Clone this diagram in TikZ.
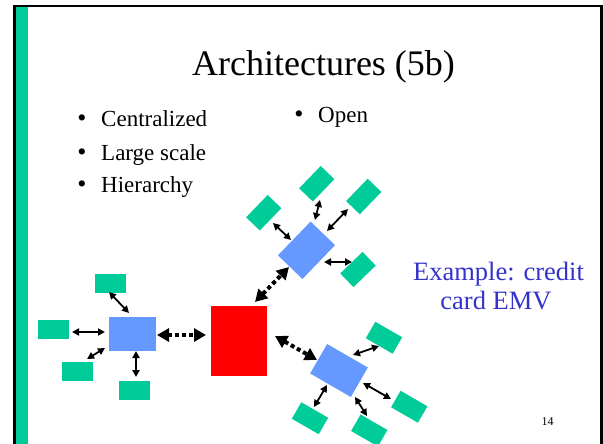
\documentclass[tikz,border=0pt]{standalone}
\usepackage{fontspec}
\setmainfont{Liberation Serif}
\usetikzlibrary{arrows.meta}
\definecolor{slgreen}{RGB}{0,204,153}
\definecolor{slblue}{RGB}{102,153,255}
\definecolor{slred}{RGB}{255,0,0}
\definecolor{sltext}{RGB}{51,51,204}
\begin{document}
\begin{tikzpicture}[x=1pt,y=-1pt,
  term/.style={fill=slgreen, minimum width=31pt, minimum height=19pt, inner sep=0pt, outer sep=0pt},
  hub/.style={fill=slblue, minimum width=47pt, minimum height=34pt, inner sep=0pt, outer sep=0pt},
  link/.style={line width=1.8pt, {Triangle[length=7pt,width=7pt]}-{Triangle[length=7pt,width=7pt]}},
  trunk/.style={line width=4pt, dash pattern=on 4pt off 3pt, {Triangle[length=12pt,width=13pt]}-{Triangle[length=12pt,width=13pt]}},
  lbl/.style={inner sep=0pt, anchor=base west, font=\fontsize{23}{27}\selectfont},
  bul/.style={inner sep=0pt, anchor=base, font=\fontsize{26}{30}\selectfont}]
\useasboundingbox (0,0) rectangle (603,444);
\fill[white] (0,0) rectangle (603,444);
% frame
\fill[slgreen] (16,7) rectangle (28,444);
\draw[line width=2.2pt] (14.5,444) -- (14.5,6) -- (601.5,6) -- (601.5,444);
% title
\node[inner sep=0pt, anchor=base, font=\fontsize{36}{40}\selectfont] (title) at (323.5,76) {Architectures (5b)};
% bullets
\node[bul] (bu1) at (82,127) {•};
\node[lbl] (t1) at (101,127) {Centralized};
\node[bul] (bu2) at (82,160) {•};
\node[lbl] (t2) at (101,160) {Large scale};
\node[bul] (bu3) at (82,192) {•};
\node[lbl] (t3) at (101,192) {Hierarchy};
\node[bul] (bu4) at (299,122) {•};
\node[lbl] (t4) at (318,122) {Open};
% example
\node[inner sep=0pt, anchor=base, text=sltext, font=\fontsize{26.5}{30}\selectfont] (ex1) at (498.5,280) {Example: credit};
\node[inner sep=0pt, anchor=base, text=sltext, font=\fontsize{26.5}{30}\selectfont] (ex2) at (496,309) {card EMV};
\node[inner sep=0pt, anchor=base, font=\fontsize{12}{14}\selectfont] (pg) at (547.5,425) {14};
% central
\node[fill=slred, minimum width=56pt, minimum height=70pt, inner sep=0pt] (red) at (239,341) {};
% left cluster
\node[hub] (hl) at (132.5,334) {};
\node[term] (la) at (110.5,283.5) {};
\node[term] (lb) at (53.5,329.5) {};
\node[term] (lc) at (77.5,371.5) {};
\node[term] (ld) at (134.5,390.5) {};
% top cluster
\node[hub, rotate=46] (ht) at (306.5,250.25) {};
\node[term, rotate=46] (ta) at (263.75,212.75) {};
\node[term, rotate=46] (tb) at (316.75,183.75) {};
\node[term, rotate=46] (tc) at (363.75,196.5) {};
\node[term, rotate=44] (td) at (358,269.5) {};
% bottom cluster
\node[hub, rotate=-30] (hb) at (339,370.5) {};
\node[term, rotate=-30] (ba) at (384,337.75) {};
\node[term, rotate=-30] (bb) at (409.25,406.75) {};
\node[term, rotate=-30] (bc) at (369.25,430.5) {};
\node[term, rotate=-30] (bd) at (310,418.25) {};
% connector end points
\coordinate (la1) at (109,292); \coordinate (la2) at (129,313);
\coordinate (lb1) at (72,332);  \coordinate (lb2) at (105,332);
\coordinate (lc1) at (87,359);  \coordinate (lc2) at (105,348);
\coordinate (ld1) at (136,351); \coordinate (ld2) at (136,377);
\coordinate (d11) at (157,335); \coordinate (d12) at (206,335);
\coordinate (ta1) at (273,223); \coordinate (ta2) at (291,240);
\coordinate (tb1) at (320,200); \coordinate (tb2) at (315,220);
\coordinate (tc1) at (348,209); \coordinate (tc2) at (327,231);
\coordinate (td1) at (324,262); \coordinate (td2) at (352,262);
\coordinate (d21) at (255,302); \coordinate (d22) at (289,267);
\coordinate (d31) at (275,336); \coordinate (d32) at (317,360);
\coordinate (ba1) at (353,355); \coordinate (ba2) at (379,346);
\coordinate (bb1) at (363,383); \coordinate (bb2) at (391,399);
\coordinate (bc1) at (355,397); \coordinate (bc2) at (367,416);
\coordinate (bd1) at (327,385); \coordinate (bd2) at (314,407);
% connectors
\draw[link] (la1) -- (la2);
\draw[link] (lb1) -- (lb2);
\draw[link] (lc1) -- (lc2);
\draw[link] (ld1) -- (ld2);
\draw[link] (ta1) -- (ta2);
\draw[link] (tb1) -- (tb2);
\draw[link] (tc1) -- (tc2);
\draw[link] (td1) -- (td2);
\draw[link] (ba1) -- (ba2);
\draw[link] (bb1) -- (bb2);
\draw[link] (bc1) -- (bc2);
\draw[link] (bd1) -- (bd2);
\draw[trunk] (d11) -- (d12);
\draw[trunk] (d21) -- (d22);
\draw[trunk] (d31) -- (d32);
\end{tikzpicture}
\end{document}
